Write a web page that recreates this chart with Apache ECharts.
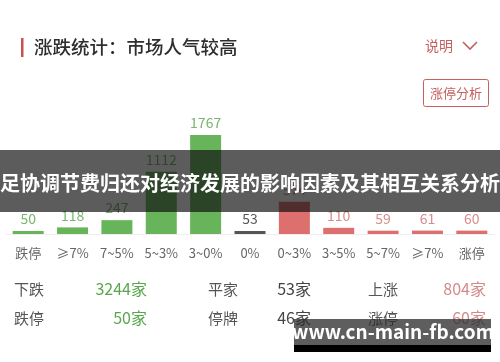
<!DOCTYPE html>
<html><head><meta charset="utf-8">
<script src="https://cdn.jsdelivr.net/npm/echarts@6/dist/echarts.min.js"></script>
<style>html,body{margin:0;padding:0;background:#fff;}#c{width:500px;height:362px;}</style>
</head><body><div id="c"></div>
<script>
var categories = ['跌停','≥7%','7~5%','5~3%','3~0%','0%','0~3%','3~5%','5~7%','≥7%','涨停'];
var values = [50,118,247,1112,1767,53,574,110,59,61,60];
var kinds = ['down','down','down','down','down','flat','up','up','up','up','up'];
var summaryLabels1 = ['下跌','平家','上涨'];
var summaryValues1 = ['3244家','53家','804家'];
var summaryLabels2 = ['跌停','停牌','涨停'];
var summaryValues2 = ['50家','46家','60家'];
var titleText = '涨跌统计：市场人气较高';
var bannerText = '足协调节费归还对经济发展的影响因素及其相互关系分析';
var watermarkText = 'www.cn-main-fb.com';

var F = '"Noto Sans CJK SC","Noto Sans",sans-serif';
var barColor = {down:'#68b45a', flat:'#555555', up:'#de6f6f'};
var labelColor = {down:'#7cb46e', flat:'#555555', up:'#d98c8c'};
var valColor = ['#5aa64c','#444444','#d48a8a'];

var chart = echarts.init(document.getElementById('c'));
var data = values.map(function(v,i){
  return {value:v, itemStyle:{color:barColor[kinds[i]]}, label:{color:labelColor[kinds[i]]}};
});
var g = [
  {type:'rect', shape:{x:21,y:38,width:2.5,height:19}, style:{fill:'#c9504f'}},
  {type:'text', x:34, y:47, style:{text:titleText, font:'500 18.5px '+F, fill:'#2e2e2e', textVerticalAlign:'middle'}},
  {type:'text', x:425, y:46, style:{text:'说明', font:'14px '+F, fill:'#c4605f', textVerticalAlign:'middle'}},
  {type:'polyline', shape:{points:[[463,42],[470,49],[477,42]]}, style:{stroke:'#c4605f', lineWidth:1.6, fill:null}},
  {type:'rect', shape:{x:423.5,y:79.5,width:65,height:27,r:2}, style:{fill:'#fff', stroke:'#c9605f', lineWidth:1}},
  {type:'text', x:456, y:93, style:{text:'涨停分析', font:'13px '+F, fill:'#c4605f', textAlign:'center', textVerticalAlign:'middle'}}
];
var cols = [[14,147],[208,311],[368,486]];
[[summaryLabels1,summaryValues1,289],[summaryLabels2,summaryValues2,318]].forEach(function(r){
  for (var i=0;i<3;i++){
    g.push({type:'text', x:cols[i][0], y:r[2], style:{text:r[0][i], font:'15px '+F, fill:'#555', textVerticalAlign:'middle'}});
    g.push({type:'text', x:cols[i][1], y:r[2], style:{text:r[1][i], font:'16px '+F, fill:valColor[i], textAlign:'right', textVerticalAlign:'middle'}});
  }
});
g.push({type:'rect', z:100, shape:{x:0,y:150,width:500,height:62}, style:{fill:'rgba(15,15,15,0.68)'}});
g.push({type:'text', z:101, x:250, y:183, style:{text:bannerText, font:'bold 20px '+F, fill:'#fff', textAlign:'center', textVerticalAlign:'middle'}});
g.push({type:'rect', z:100, shape:{x:294,y:319,width:197,height:27}, style:{fill:'rgba(40,40,40,0.75)'}});
g.push({type:'rect', z:100, shape:{x:294,y:345,width:197,height:7}, style:{fill:'#000'}});
g.push({type:'text', z:101, x:393, y:332, style:{text:watermarkText, font:'bold 19px '+F, fill:'#fff', textAlign:'center', textVerticalAlign:'middle'}});

chart.setOption({
  animation:false,
  grid:{left:6, right:6, top:135, bottom:128},
  xAxis:{type:'category', data:categories,
    axisLine:{show:true, lineStyle:{color:'#eeeeee'}}, axisTick:{show:false},
    axisLabel:{color:'#666', fontSize:13, fontFamily:F, margin:13, interval:0}},
  yAxis:{type:'value', min:0, max:1767, show:false, splitLine:{show:false}},
  series:[{type:'bar', data:data, barWidth:31, barMinHeight:3,
    label:{show:true, position:'top', distance:5, fontSize:14, fontFamily:F}}],
  graphic:g
});
</script></body></html>
